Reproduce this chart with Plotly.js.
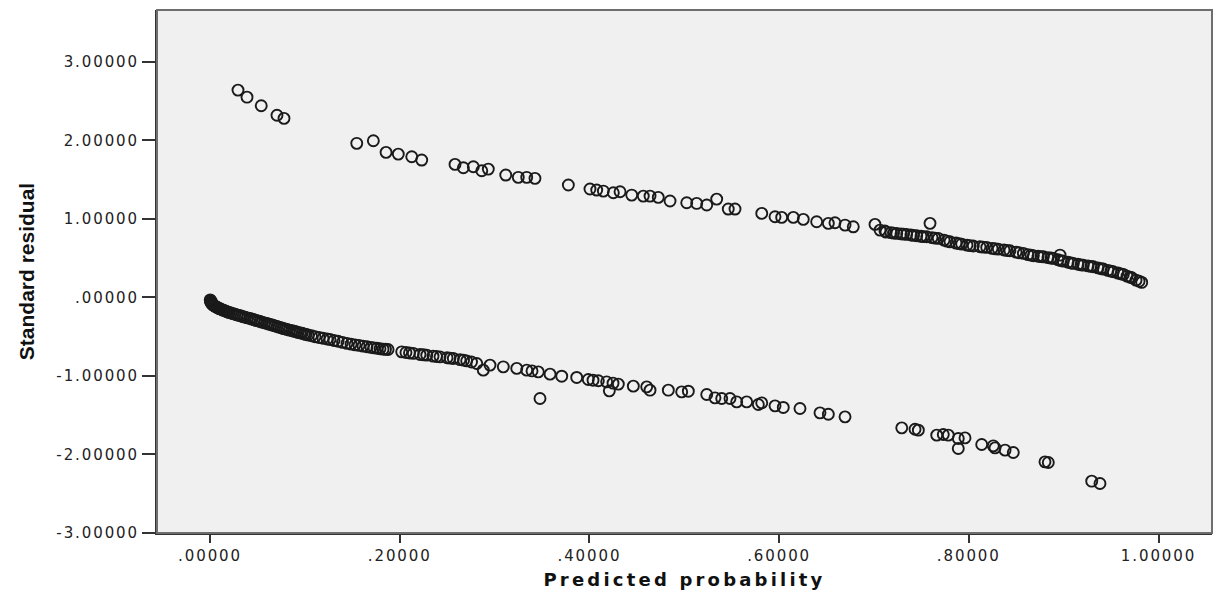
<!DOCTYPE html>
<html>
<head>
<meta charset="utf-8">
<script src="https://cdn.plot.ly/plotly-3.0.1.min.js"></script>
<style>
  html, body { margin: 0; padding: 0; background: #ffffff; }
  #chart { width: 1217px; height: 592px; }
  .xtick text, .ytick text { letter-spacing: 1.9px; }
  .g-xtitle text { letter-spacing: 3.2px; }
</style>
</head>
<body>
<div id="chart"></div>
<script>
// Upper branch (observed = 1): predicted probability vs standard residual
const upX = [0.0295, 0.039, 0.054, 0.0706, 0.078,
  0.1547, 0.1722, 0.1856, 0.1985, 0.2127, 0.2232, 0.2583, 0.2671, 0.2776, 0.2865, 0.2934,
  0.3118, 0.3250, 0.3339, 0.3426, 0.3778, 0.4006, 0.4077, 0.4147, 0.4252, 0.4323, 0.4446,
  0.4568, 0.4639, 0.4726, 0.4850, 0.5026, 0.5131, 0.5237, 0.5342, 0.5464, 0.5535, 0.5817,
  0.5957, 0.6027, 0.6150, 0.6255, 0.6396, 0.6519, 0.6589, 0.6695, 0.6782, 0.7011, 0.7064,
  0.7116, 0.7240, 0.7345, 0.7451, 0.7556, 0.7591, 0.7678, 0.7802, 0.7925, 0.8047, 0.8189,
  0.8311, 0.8434, 0.8575, 0.8680, 0.8786, 0.8891, 0.8962, 0.8996, 0.9102, 0.9207, 0.9313,
  0.9418, 0.9523, 0.9629, 0.9718, 0.9823,
  0.7180, 0.7285, 0.7390, 0.7496, 0.7612, 0.7739, 0.7865, 0.7981, 0.8118, 0.8245, 0.8371,
  0.8498, 0.8624, 0.8730, 0.8835, 0.8940, 0.9046, 0.9151, 0.9257, 0.9362, 0.9467, 0.9573,
  0.9668, 0.9763,
  0.7127, 0.7206, 0.7312, 0.7417, 0.7522, 0.7644, 0.7770, 0.7897, 0.8013, 0.8150, 0.8276,
  0.8403, 0.8529, 0.8656, 0.8761, 0.8867, 0.8972, 0.9078, 0.9183, 0.9288, 0.9394, 0.9499,
  0.9605, 0.9700, 0.9795];
const upY = [2.64, 2.55, 2.44, 2.32, 2.28,
  1.962, 1.995, 1.847, 1.825, 1.791, 1.749, 1.694, 1.651, 1.664, 1.613, 1.634,
  1.558, 1.529, 1.529, 1.516, 1.431, 1.380, 1.367, 1.354, 1.332, 1.345, 1.303,
  1.290, 1.290, 1.274, 1.227, 1.205, 1.197, 1.176, 1.252, 1.125, 1.125, 1.070,
  1.027, 1.019, 1.019, 0.994, 0.963, 0.943, 0.950, 0.921, 0.899, 0.930, 0.857,
  0.845, 0.815, 0.803, 0.785, 0.772, 0.943, 0.752, 0.708, 0.679, 0.654, 0.637,
  0.615, 0.594, 0.561, 0.530, 0.517, 0.497, 0.539, 0.462, 0.433, 0.411, 0.390,
  0.361, 0.326, 0.293, 0.250, 0.191,
  0.825, 0.809, 0.794, 0.778, 0.762, 0.730, 0.692, 0.666, 0.645, 0.625, 0.603,
  0.577, 0.545, 0.524, 0.507, 0.479, 0.447, 0.422, 0.401, 0.376, 0.344, 0.310,
  0.271, 0.220,
  0.832, 0.819, 0.806, 0.790, 0.774, 0.755, 0.717, 0.685, 0.660, 0.641, 0.620,
  0.597, 0.569, 0.539, 0.520, 0.501, 0.469, 0.439, 0.415, 0.395, 0.367, 0.335,
  0.300, 0.258, 0.207];

// Lower branch (observed = 0)
const loX = [0.0002, 0.0005, 0.0011, 0.0026, 0.0042, 0.0063, 0.0084, 0.0105, 0.0137, 0.0169,
  0.0200, 0.0242, 0.0285, 0.0327, 0.0369, 0.0422, 0.0464, 0.0506, 0.0548, 0.0601,
  0.0643, 0.0685, 0.0727, 0.0770, 0.0812, 0.0865, 0.0907, 0.0949, 0.0991, 0.1033,
  0.1107, 0.1149, 0.1191, 0.1265, 0.1307, 0.1350, 0.1444, 0.1487, 0.1529, 0.1613,
  0.1655, 0.1697, 0.1761, 0.1824, 0.1877,
  0.0005, 0.0016, 0.0021, 0.0032, 0.0053, 0.0074, 0.0095, 0.0121, 0.0153, 0.0185,
  0.0221, 0.0264, 0.0306, 0.0348, 0.0395, 0.0443, 0.0485, 0.0527, 0.0575, 0.0622,
  0.0664, 0.0706, 0.0749, 0.0791, 0.0838, 0.0886, 0.0928, 0.0970, 0.1012, 0.1070,
  0.1234, 0.1397, 0.1571, 0.1729, 0.1792, 0.1850,
  0.2021, 0.2066, 0.2143, 0.2214, 0.2285, 0.2351, 0.2425, 0.2499, 0.2565, 0.2636,
  0.2706, 0.2812, 0.2881, 0.2952, 0.3092, 0.3234, 0.3339, 0.3395, 0.3461, 0.3479,
  0.3585, 0.3708, 0.3866, 0.3988, 0.4038, 0.4094, 0.4182, 0.4210, 0.4249, 0.4305,
  0.4463, 0.4604, 0.4639, 0.4832, 0.4973, 0.5043, 0.5237, 0.5324, 0.5395, 0.5482,
  0.5553, 0.5658, 0.5781, 0.5817, 0.5957, 0.6044, 0.6220, 0.6431, 0.6519, 0.6695,
  0.7293, 0.7433, 0.7468, 0.7662, 0.7731, 0.7784, 0.7889, 0.7960, 0.7889, 0.8136,
  0.8258, 0.8276, 0.8382, 0.8469, 0.8803, 0.8838, 0.9296, 0.9383,
  0.2103, 0.2251, 0.2388, 0.2530, 0.2673, 0.2757];
const loY = [-0.031, -0.050, -0.069, -0.088, -0.104, -0.120, -0.134, -0.145, -0.162, -0.177,
  -0.191, -0.206, -0.222, -0.237, -0.252, -0.269, -0.284, -0.299, -0.315, -0.332,
  -0.348, -0.363, -0.378, -0.395, -0.409, -0.424, -0.438, -0.451, -0.465, -0.478,
  -0.501, -0.510, -0.520, -0.536, -0.548, -0.559, -0.585, -0.595, -0.604, -0.620,
  -0.628, -0.636, -0.648, -0.659, -0.664,
  -0.041, -0.057, -0.079, -0.096, -0.111, -0.126, -0.139, -0.153, -0.169, -0.185,
  -0.199, -0.214, -0.229, -0.245, -0.261, -0.276, -0.292, -0.307, -0.324, -0.340,
  -0.355, -0.371, -0.386, -0.401, -0.417, -0.431, -0.445, -0.457, -0.471, -0.489,
  -0.529, -0.572, -0.611, -0.642, -0.654, -0.661,
  -0.693, -0.701, -0.713, -0.726, -0.735, -0.748, -0.757, -0.768, -0.777, -0.792,
  -0.808, -0.841, -0.926, -0.862, -0.884, -0.904, -0.926, -0.936, -0.948, -1.287,
  -0.977, -1.003, -1.019, -1.045, -1.054, -1.062, -1.075, -1.190, -1.092, -1.104,
  -1.130, -1.139, -1.181, -1.181, -1.203, -1.194, -1.236, -1.279, -1.287, -1.287,
  -1.330, -1.330, -1.363, -1.343, -1.381, -1.401, -1.414, -1.470, -1.487, -1.521,
  -1.661, -1.678, -1.690, -1.754, -1.745, -1.754, -1.796, -1.789, -1.924, -1.873,
  -1.890, -1.916, -1.945, -1.975, -2.094, -2.102, -2.340, -2.369,
  -0.707, -0.731, -0.752, -0.773, -0.799, -0.822];

const xTickVals = [0, 0.2, 0.4, 0.6, 0.8, 1.0];
const xTickText = ['.00000', '.20000', '.40000', '.60000', '.80000', '1.00000'];
const yTickVals = [-3, -2, -1, 0, 1, 2, 3];
const yTickText = ['-3.00000', '-2.00000', '-1.00000', '.00000', '1.00000', '2.00000', '3.00000'];

const xTitle = 'Predicted probability';
const yTitle = 'Standard residual';

const markerStyle = {
  symbol: 'circle-open',
  size: 11,
  color: '#1a1a1a',
  line: { width: 1.9, color: '#1a1a1a' }
};

const traces = [
  { x: upX, y: upY, type: 'scatter', mode: 'markers', marker: markerStyle, hoverinfo: 'x+y', showlegend: false },
  { x: loX, y: loY, type: 'scatter', mode: 'markers', marker: markerStyle, hoverinfo: 'x+y', showlegend: false }
];

const tickFont = { family: 'DejaVu Sans, Liberation Sans, sans-serif', size: 15, color: '#222222' };

const layout = {
  width: 1217,
  height: 592,
  margin: { l: 157, r: 5, t: 10, b: 59 },
  paper_bgcolor: '#ffffff',
  plot_bgcolor: '#f0f0f0',
  showlegend: false,
  xaxis: {
    range: [-0.0559, 1.0564],
    tickvals: xTickVals,
    ticktext: xTickText,
    ticks: 'outside',
    ticklen: 8,
    tickwidth: 2,
    tickcolor: '#333333',
    showgrid: false,
    zeroline: false,
    showline: true,
    linecolor: '#333333',
    linewidth: 2,
    tickfont: tickFont,
    title: {
      text: xTitle,
      font: { family: 'DejaVu Sans, Liberation Sans, sans-serif', size: 18, color: '#111111', weight: 'bold' },
      standoff: 9
    }
  },
  yaxis: {
    range: [-3.0, 3.66],
    tickvals: yTickVals,
    ticktext: yTickText,
    ticks: 'outside',
    ticklen: 13,
    tickwidth: 2,
    tickcolor: '#333333',
    showgrid: false,
    zeroline: false,
    showline: true,
    linecolor: '#333333',
    linewidth: 2,
    tickfont: tickFont,
    title: {
      text: yTitle,
      font: { family: 'Liberation Sans Narrow, Liberation Sans, sans-serif', size: 21, color: '#111111', weight: 'bold' },
      standoff: 16
    }
  },
  shapes: [
    {
      type: 'rect', xref: 'paper', yref: 'paper', x0: 0, y0: 0, x1: 1, y1: 1,
      line: { color: '#6e6e6e', width: 2 },
      layer: 'above'
    }
  ]
};

Plotly.newPlot('chart', traces, layout, { staticPlot: true, displayModeBar: false });
</script>
</body>
</html>
